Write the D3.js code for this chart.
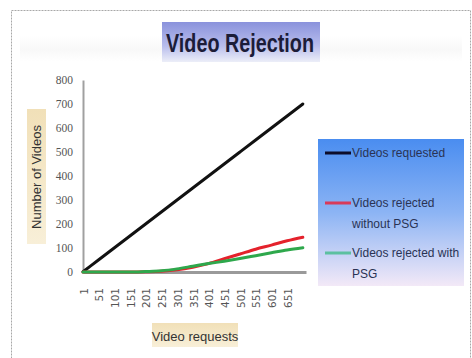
<!DOCTYPE html>
<html>
<head>
<meta charset="utf-8">
<script src="https://cdn.jsdelivr.net/npm/d3@7"></script>
<style>
  html, body { margin: 0; padding: 0; background: #fff; }
  svg { display: block; }
</style>
</head>
<body>
<svg id="chart" width="472" height="358"></svg>
<script>
// ---- data ----
const chartTitle = "Video Rejection";
const xAxisTitle = "Video requests";
const yAxisTitle = "Number of Videos";
const seriesNames = ["Videos requested", "Videos rejected without PSG", "Videos rejected with PSG"];
const xTickLabels = [1, 51, 101, 151, 201, 251, 301, 351, 401, 451, 501, 551, 601, 651];
const yTickLabels = [0, 100, 200, 300, 400, 500, 600, 700, 800];
const requestIndex = [1, 50, 100, 150, 200, 250, 300, 350, 400, 450, 500, 550, 600, 650, 700];
const videosRequested = [1, 50, 100, 150, 200, 250, 300, 350, 400, 450, 500, 550, 600, 650, 700];
const rejectedWithoutPSG = [0, 0, 0, 0, 1, 3, 9, 20, 35, 55, 75, 95, 112, 130, 145];
const rejectedWithPSG = [0, 0, 0, 0, 2, 5, 13, 24, 35, 45, 56, 68, 80, 92, 101];

const svg = d3.select("#chart");
const defs = svg.append("defs");

function grad(id, stops) {
  const g = defs.append("linearGradient").attr("id", id)
    .attr("x1", 0).attr("y1", 0).attr("x2", 0).attr("y2", 1);
  stops.forEach(s => g.append("stop").attr("offset", s[0]).attr("stop-color", s[1]));
}
grad("titleGrad", [[0, "#8a92dc"], [0.6, "#b8bdec"], [1, "#eceef8"]]);
grad("legendGrad", [[0, "#4a8df0"], [0.5, "#8cb4f4"], [1, "#f3e9f7"]]);
grad("beigeGrad", [[0, "#f1e0b8"], [1, "#f8efd8"]]);
grad("bandGrad", [[0, "#ffffff"], [0.5, "#f8f8f8"], [1, "#ffffff"]]);

// outer frame
svg.append("rect").attr("x", 11.5).attr("y", 10.5).attr("width", 459).attr("height", 360)
  .attr("fill", "#fff").attr("stroke", "#a8a8a8").attr("stroke-dasharray", "2,1");
svg.append("rect").attr("x", 20).attr("y", 36).attr("width", 442).attr("height", 26)
  .attr("fill", "url(#bandGrad)");

// title
svg.append("rect").attr("x", 162).attr("y", 22).attr("width", 158).attr("height", 40)
  .attr("fill", "url(#titleGrad)");
svg.append("text").attr("x", 166).attr("y", 52)
  .attr("font-family", "'Liberation Sans Narrow', 'Liberation Sans', sans-serif")
  .attr("font-weight", "bold").attr("font-size", 25).attr("fill", "#1c1c38")
  .attr("textLength", 148).attr("lengthAdjust", "spacingAndGlyphs")
  .text(chartTitle);

// scales
const x = d3.scaleLinear().domain([1, 710]).range([83, 306]);
const y = d3.scaleLinear().domain([0, 800]).range([272, 80]);

// y axis
const yAxis = svg.append("g").attr("transform", "translate(83,0)")
  .call(d3.axisLeft(y).tickValues(yTickLabels).tickSize(0).tickPadding(10));
yAxis.select(".domain").attr("stroke", "#a0a0a0").attr("stroke-width", 2);
yAxis.selectAll("text").attr("font-family", "'Liberation Serif', serif")
  .attr("font-size", 11.5).attr("fill", "#555");

// x axis
const xAxis = svg.append("g").attr("transform", "translate(0,272)")
  .call(d3.axisBottom(x).tickValues(xTickLabels).tickSize(0).tickSizeOuter(0));
xAxis.select(".domain").attr("stroke", "#9a9a9a").attr("stroke-width", 3);
xAxis.selectAll("text")
  .attr("font-family", "'DejaVu Sans', sans-serif").attr("font-size", 10.5).attr("fill", "#555")
  .attr("text-anchor", "end").attr("dy", null)
  .attr("transform", "translate(0,16) rotate(-90)").attr("x", 0).attr("y", 0)
  .attr("dominant-baseline", "central");

// axis titles
svg.append("rect").attr("x", 27).attr("y", 109).attr("width", 19).attr("height", 135)
  .attr("fill", "url(#beigeGrad)");
svg.append("text").attr("transform", "translate(41,177) rotate(-90)")
  .attr("text-anchor", "middle").attr("font-family", "'Liberation Sans Narrow', sans-serif")
  .attr("font-size", 13).attr("fill", "#333").text(yAxisTitle);

svg.append("rect").attr("x", 152).attr("y", 323).attr("width", 86).attr("height", 24)
  .attr("fill", "url(#beigeGrad)");
svg.append("text").attr("x", 195).attr("y", 341)
  .attr("text-anchor", "middle").attr("font-family", "'Liberation Sans Narrow', sans-serif")
  .attr("font-size", 13).attr("fill", "#333").text(xAxisTitle);

// lines
const seriesData = [
  { vals: videosRequested, color: "#111111" },
  { vals: rejectedWithoutPSG, color: "#e4222c" },
  { vals: rejectedWithPSG, color: "#2ea84c" }
];
const line = d3.line().x(d => x(d[0])).y(d => y(d[1])).curve(d3.curveMonotoneX);
seriesData.forEach(s => {
  svg.append("path").datum(requestIndex.map((r, i) => [r, s.vals[i]]))
    .attr("d", line).attr("fill", "none").attr("stroke", s.color)
    .attr("stroke-width", 3).attr("stroke-linecap", "round");
});

// legend
svg.append("rect").attr("x", 318).attr("y", 139).attr("width", 146).attr("height", 147)
  .attr("fill", "url(#legendGrad)");
const legendItems = [
  { lines: ["Videos requested"], color: "#0d0d2a", y: 153 },
  { lines: ["Videos rejected", "without PSG"], color: "#d83a5a", y: 203 },
  { lines: ["Videos rejected with", "PSG"], color: "#5cc0a0", y: 253 }
];
legendItems.forEach(it => {
  svg.append("line").attr("x1", 325).attr("x2", 351).attr("y1", it.y).attr("y2", it.y)
    .attr("stroke", it.color).attr("stroke-width", 3);
  it.lines.forEach((t, j) => {
    svg.append("text").attr("x", 352).attr("y", it.y + 4 + j * 21)
      .attr("font-family", "'Liberation Sans Narrow', sans-serif")
      .attr("font-size", 12).attr("fill", "#2a3354").text(t);
  });
});
</script>
</body>
</html>
